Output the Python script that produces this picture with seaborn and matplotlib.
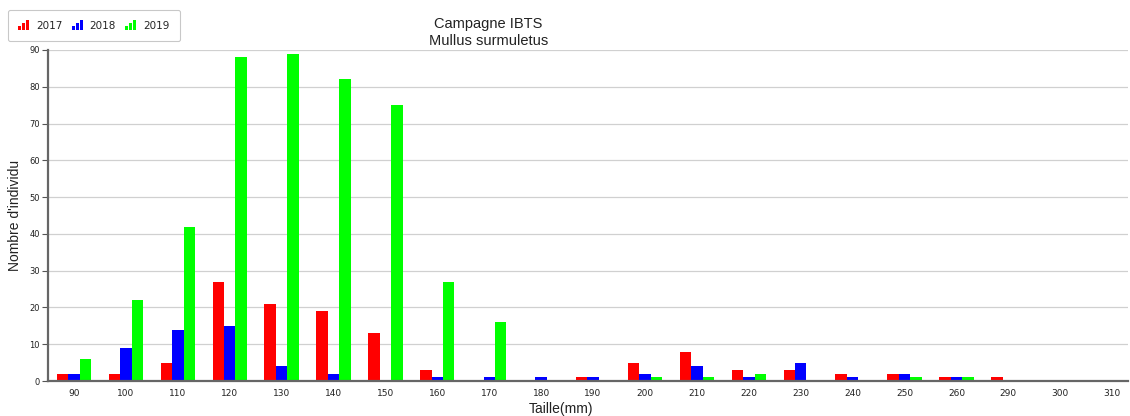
import matplotlib
matplotlib.use("Agg")
import matplotlib.pyplot as plt
from matplotlib.legend_handler import HandlerBase
from matplotlib.patches import Rectangle
import seaborn as sns
import pandas as pd

# Size classes (mm) and counts per survey year
tailles = ["90", "100", "110", "120", "130", "140", "150", "160", "170", "180",
           "190", "200", "210", "220", "230", "240", "250", "260", "290", "300", "310"]
n_2017 = [2, 2, 5, 27, 21, 19, 13, 3, 0, 0, 1, 5, 8, 3, 3, 2, 2, 1, 1, 0, 0]
n_2018 = [2, 9, 14, 15, 4, 2, 0, 1, 1, 1, 1, 2, 4, 1, 5, 1, 2, 1, 0, 0, 0]
n_2019 = [6, 22, 42, 88, 89, 82, 75, 27, 16, 0, 0, 1, 1, 2, 0, 0, 1, 1, 0, 0, 0]
annees = ["2017", "2018", "2019"]
couleurs = ["#ff0000", "#0000ff", "#00ff00"]

df = pd.DataFrame({
    "Taille": tailles * 3,
    "Nombre": n_2017 + n_2018 + n_2019,
    "Annee": [a for a in annees for _ in tailles],
})

sns.set_style("white")
plt.rcParams["font.family"] = ["DejaVu Sans"]
LAB = "Liberation Sans"

fig = plt.figure(figsize=(11.3, 4.16), dpi=100)
ax = fig.add_axes([0.0425, 0.084, 0.9555, 0.796])

sns.barplot(data=df, x="Taille", y="Nombre", hue="Annee", order=tailles,
            hue_order=annees, palette=couleurs, width=0.66, saturation=1,
            linewidth=0, ax=ax, legend=False)

ax.set_ylim(0, 90)
ax.set_xlim(-0.5, 20.3)
ax.set_yticks(range(0, 91, 10))
ax.yaxis.grid(True, color="#d0d0d0", linewidth=0.9)
ax.set_axisbelow(True)

# category boundary ticks on the x axis
ax.set_xticks([i + 0.5 for i in range(len(tailles) - 1)], minor=True)
ax.tick_params(axis="x", which="major", length=0, labelsize=6.5, pad=6, colors="#222222")
ax.tick_params(axis="x", which="minor", length=3, width=1, direction="in", color="#222222")
ax.tick_params(axis="y", which="major", length=4, width=0.8, labelsize=6, pad=2,
               color="#555555", labelcolor="#222222", left=True)

for side in ["top", "right"]:
    ax.spines[side].set_visible(False)
for side in ["left", "bottom"]:
    ax.spines[side].set_color("#666666")
    ax.spines[side].set_linewidth(1.6)

ax.set_xlabel("Taille(mm)", fontsize=10, family=LAB, color="#222222")
ax.xaxis.set_label_coords((561 - 48) / 1080, -0.062)
ax.set_ylabel("Nombre d'individu", fontsize=10, family=LAB, color="#222222")
ax.yaxis.set_label_coords(-0.024, 0.5)
fig.text(0.432, 0.922, "Campagne IBTS\nMullus surmuletus", ha="center", va="center",
         fontsize=10.5, family=LAB, color="#222222", linespacing=1.25)


class BarIconHandler(HandlerBase):
    """Legend key drawn as three small rising bars."""

    def __init__(self, color):
        super().__init__()
        self.color = color

    def create_artists(self, legend, orig_handle, xdescent, ydescent, width,
                       height, fontsize, trans):
        bw = width / 3.4
        heights = [0.45, 0.8, 1.15]
        arts = []
        for i, h in enumerate(heights):
            r = Rectangle((-xdescent + i * (bw + 0.6), -ydescent - 0.5), bw, height * h,
                          facecolor=self.color, edgecolor="none", transform=trans)
            arts.append(r)
        return arts


handles = [Rectangle((0, 0), 1, 1, color=c) for c in couleurs]
leg = fig.legend(handles, annees, loc="upper left", bbox_to_anchor=(0.007, 0.976),
                 ncol=3, fontsize=7.5, frameon=True, handlelength=1.0,
                 handleheight=1.0, handletextpad=0.7, columnspacing=0.9,
                 borderpad=1.0, borderaxespad=0, fancybox=True,
                 handler_map={h: BarIconHandler(c) for h, c in zip(handles, couleurs)})
leg.get_frame().set_edgecolor("#bbbbbb")
leg.get_frame().set_linewidth(0.8)

fig.savefig("out.png", dpi=100)
